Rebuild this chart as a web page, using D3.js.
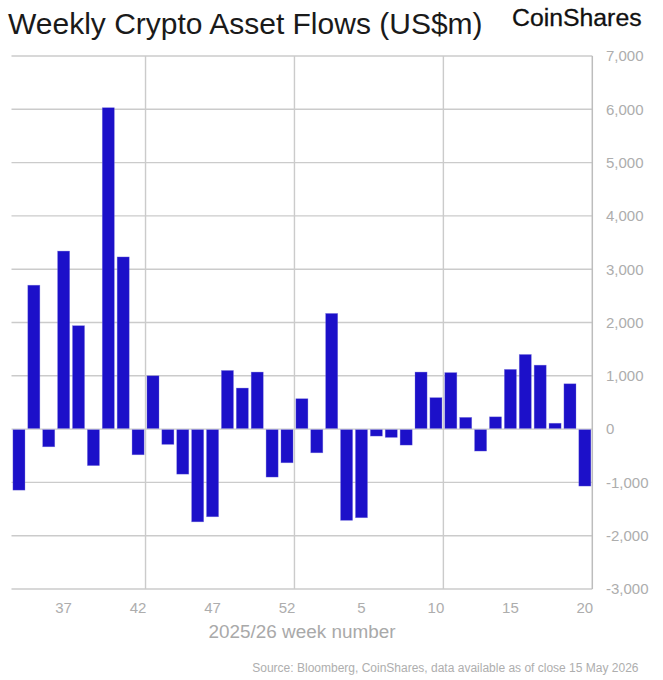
<!DOCTYPE html>
<html><head><meta charset="utf-8">
<script src="https://cdn.jsdelivr.net/npm/d3@7"></script>
<style>html,body{margin:0;padding:0;background:#fff}svg{display:block}text{font-family:"Liberation Sans",Arial,sans-serif}</style>
</head><body><div id="c"></div>
<script>
const weeks=[34,35,36,37,38,39,40,41,42,43,44,45,46,47,48,49,50,51,52,1,2,3,4,5,6,7,8,9,10,11,12,13,14,15,16,17,18,19,20];
const flows=[-1145,2700,-332,3340,1940,-685,6030,3230,-482,1000,-287,-845,-1740,-1645,1100,770,1070,-900,-632,570,-445,2170,-1712,-1663,-131,-156,-300,1070,590,1060,220,-412,230,1120,1400,1200,110,850,-1069];
const yTicks=[7000,6000,5000,4000,3000,2000,1000,0,-1000,-2000,-3000];
const xLabels=[37,42,47,52,5,10,15,20];
const gridAfter=[42,52,10];
const title="Weekly Crypto Asset Flows (US$m)";
const xTitle="2025/26 week number";
const source="Source: Bloomberg, CoinShares, data available as of close 15 May 2026";

const W=663,H=680,L=11.5,R=592.3,T=56,B=589;
const svg=d3.select("#c").append("svg").attr("width",W).attr("height",H);
const x=d3.scaleBand().domain(d3.range(weeks.length)).range([L,R]).paddingInner(0.19).paddingOuter(0.095);
const y=d3.scaleLinear().domain([-3000,7000]).range([B,T]);
const step=x.step();
const grid="#cbcbcb",tick="#adadad";
const fmt=d=>d3.format(",")(d).replace("\u2212","-");
svg.append("g").selectAll("line").data(yTicks).join("line")
 .attr("x1",L).attr("x2",R).attr("y1",d=>y(d)).attr("y2",d=>y(d))
 .attr("stroke",grid).attr("stroke-width",1.4);
svg.append("g").selectAll("line").data(gridAfter).join("line")
 .attr("x1",d=>x(weeks.indexOf(d))+x.bandwidth()+(step-x.bandwidth())/2)
 .attr("x2",d=>x(weeks.indexOf(d))+x.bandwidth()+(step-x.bandwidth())/2)
 .attr("y1",T).attr("y2",B).attr("stroke",grid).attr("stroke-width",1.4);
svg.append("line").attr("x1",R).attr("x2",R).attr("y1",T).attr("y2",B).attr("stroke","#bdbdbd").attr("stroke-width",1.5);
svg.append("g").selectAll("rect").data(flows).join("rect")
 .attr("x",(d,i)=>x(i)).attr("width",x.bandwidth())
 .attr("y",d=>d>=0?y(d):y(0)+0.6).attr("height",d=>Math.abs(y(d)-y(0))-0.6)
 .attr("fill","#1c10c9").attr("stroke","#7a74dd").attr("stroke-opacity",0.55).attr("stroke-width",0.6);
svg.append("g").selectAll("text").data(yTicks).join("text")
 .attr("x",606).attr("y",d=>y(d)+5.3).attr("text-anchor","start")
 .attr("font-size",15).attr("fill",tick).text(fmt);
svg.append("g").selectAll("text").data(xLabels).join("text")
 .attr("x",d=>x(weeks.indexOf(d))+x.bandwidth()/2).attr("y",612.5).attr("text-anchor","middle")
 .attr("font-size",15).attr("fill",tick).text(d=>d);
svg.append("text").attr("x",302).attr("y",638).attr("text-anchor","middle").attr("font-size",18.9).attr("fill","#a9a9a9").text(xTitle);
svg.append("text").attr("x",638.5).attr("y",672).attr("text-anchor","end").attr("font-size",12).attr("fill","#aeaeae").text(source);
svg.append("text").attr("x",8).attr("y",34).attr("font-size",30).attr("fill","#1a1a1a").text(title);
svg.append("text").attr("x",512).attr("y",25.5).attr("font-size",24.8).attr("stroke","#111").attr("stroke-width",0.3).attr("fill","#111").text("CoinShares");
</script></body></html>
